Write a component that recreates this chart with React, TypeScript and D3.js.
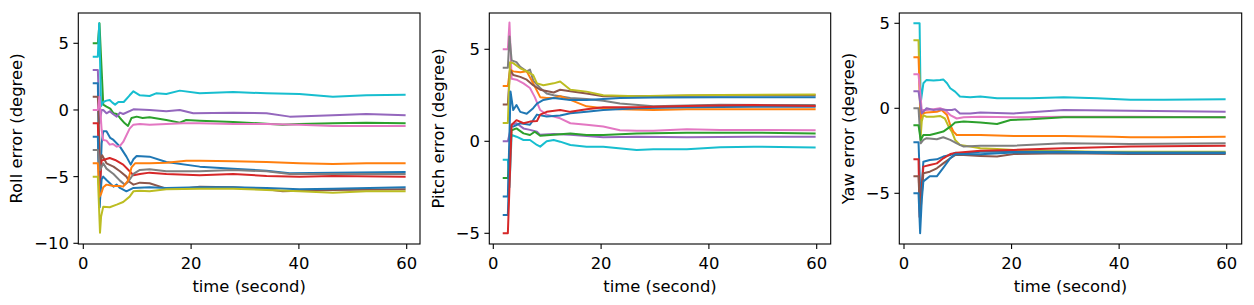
import React from 'react';
import * as d3 from 'd3';

// tab10 palette (same as matplotlib default cycle)
const palette = d3.schemeCategory10;

const xTicks = [0, 20, 40, 60];
const dashSpan = [1.75, 2.7];

// ---- Roll ----
const rollInit = [5, 4, 3, 2, 1, 0, -1, -2, -3, -4, -5];
const rollColor = [2, 9, 4, 0, 5, 6, 3, 0, 7, 1, 8];
const rollTrack: number[][][] = [
  [[3.0, 6.5], [3.7, 0.4], [4.3, 0.25], [5.0, 0.1], [5.6, -0.25], [6.2, -0.3], [6.8, -0.6], [7.7, -1.0], [8.3, -1.2], [8.95, -0.6], [9.9, -0.5], [11.0, -0.6], [12.3, -0.55], [15.4, -0.75], [17.9, -0.95], [19.1, -0.75], [21.6, -0.8], [27.8, -0.9], [37, -1.1], [40, -1.05], [46.3, -1.0], [52.5, -0.95], [59.8, -1.0]],
  [[2.95, 6.5], [3.3, 0.3], [3.7, 0.6], [4.3, 0.7], [4.9, 0.75], [5.4, 0.55], [5.9, 0.4], [6.5, 0.6], [7.5, 0.6], [8.6, 1.1], [9.3, 1.4], [10.5, 1.1], [12.3, 1.05], [13.5, 1.25], [15.4, 1.2], [17.9, 1.45], [21.6, 1.25], [27.8, 1.35], [34, 1.25], [40.1, 1.2], [46.3, 1.0], [52.5, 1.1], [59.8, 1.15]],
  [[3.0, -1.0], [3.4, 0.0], [3.7, 0.0], [4.3, -0.25], [4.9, -0.1], [5.5, -0.3], [6.2, -0.5], [6.8, -0.2], [7.4, -0.3], [9.3, 0.05], [12.3, 0.0], [15.4, -0.1], [17.9, 0.0], [20.4, -0.25], [27.8, -0.2], [34, -0.25], [38.3, -0.5], [46.3, -0.4], [52.5, -0.3], [59.8, -0.4]],
  [[3.0, -7.3], [3.4, -2.5], [3.7, -1.6], [4.3, -1.6], [5.0, -2.1], [5.6, -2.25], [6.8, -2.75], [8.0, -3.5], [8.8, -4.1], [9.3, -3.7], [9.9, -3.45], [12.3, -3.5], [15.4, -3.9], [21.6, -4.25], [27.8, -4.4], [34, -4.55], [38.3, -4.75], [46.3, -4.7], [59.8, -4.65]],
  [[3.1, -4.0], [3.5, -3.4], [4.3, -4.0], [5.6, -4.25], [6.8, -4.6], [8.0, -5.0], [8.6, -5.4], [9.3, -5.6], [10.5, -5.45], [12.3, -5.5], [15.4, -5.9], [18.5, -5.9], [21.6, -5.75], [27.8, -5.8], [34, -5.95], [37, -6.1], [40.1, -6.05], [46.3, -6.0], [59.8, -5.95]],
  [[3.0, 1.0], [3.4, -1.5], [3.7, -2.25], [4.3, -2.3], [4.9, -2.6], [5.5, -2.55], [6.2, -2.75], [6.8, -2.7], [7.4, -2.4], [8.6, -1.4], [9.3, -1.1], [10.5, -1.05], [12.3, -1.1], [15.4, -1.05], [18.5, -1.0], [21.6, -1.0], [27.8, -1.05], [34, -1.05], [40.1, -1.1], [46.3, -1.2], [52.5, -1.2], [59.8, -1.2]],
  [[3.0, -6.0], [3.4, -3.8], [3.7, -3.75], [4.9, -3.6], [5.9, -3.75], [7.4, -4.1], [8.6, -4.6], [9.3, -4.9], [10.5, -4.8], [12.3, -4.7], [15.4, -4.8], [21.6, -4.9], [27.8, -4.8], [34, -4.95], [40.1, -5.0], [46.3, -4.95], [59.8, -5.0]],
  [[3.0, -7.3], [3.4, -5.2], [3.7, -5.0], [4.3, -5.25], [5.6, -5.75], [6.2, -5.6], [6.8, -5.85], [8.0, -6.1], [9.3, -5.85], [12.3, -5.8], [15.4, -5.85], [21.6, -5.8], [27.8, -5.8], [34, -5.85], [40.1, -5.95], [46.3, -5.9], [59.8, -5.8]],
  [[3.1, -4.5], [3.7, -4.0], [4.3, -4.4], [5.6, -4.8], [6.8, -5.3], [7.7, -5.6], [8.3, -5.4], [9.3, -4.8], [10.5, -4.5], [12.3, -4.45], [15.4, -4.6], [21.6, -4.6], [27.8, -4.5], [34, -4.6], [38.3, -4.8], [46.3, -4.8], [59.8, -4.8]],
  [[3.0, -6.5], [3.3, -6.3], [3.7, -5.8], [4.3, -5.6], [5.6, -5.7], [6.8, -5.7], [7.4, -5.75], [8.3, -5.3], [8.95, -4.3], [9.6, -4.0], [12.3, -4.0], [15.4, -3.95], [19.1, -3.8], [21.6, -3.8], [27.8, -3.85], [34, -3.9], [40.1, -4.0], [46.3, -4.05], [52.5, -4.0], [59.8, -4.0]],
  [[3.1, -9.2], [3.3, -8.0], [3.7, -7.25], [4.9, -7.3], [6.2, -7.1], [7.4, -6.9], [8.6, -6.5], [9.3, -6.1], [10.5, -6.05], [12.3, -6.1], [15.4, -5.95], [21.6, -5.9], [27.8, -5.9], [34, -6.0], [40.1, -6.1], [46.3, -6.2], [52.5, -6.1], [59.8, -6.1]],
];

// ---- Pitch ----
const pitchInit = [5, 4, 3, 2, 1, 0, -1, -2, -3, -4, -5];
const pitchColor = [6, 7, 1, 5, 8, 4, 9, 2, 0, 0, 3];
const pitchTrack: number[][][] = [
  [[3.0, 6.45], [3.4, 3.4], [4.3, 3.35], [5.6, 3.15], [6.8, 2.9], [7.7, 2.4], [8.7, 1.7], [9.9, 1.45], [11.2, 1.35], [12.4, 1.25], [14.3, 0.98], [17.3, 0.9], [20.4, 0.8], [23.5, 0.6], [26.6, 0.57], [29.7, 0.57], [35.9, 0.65], [42.1, 0.62], [48.3, 0.62], [59.8, 0.6]],
  [[3.0, 5.7], [3.4, 4.4], [4.3, 4.3], [5.0, 4.05], [6.2, 3.8], [6.8, 3.9], [7.4, 3.3], [8.7, 2.9], [9.9, 2.6], [11.2, 2.5], [14.3, 2.35], [17.3, 2.3], [20.4, 2.2], [23.5, 2.05], [29.7, 1.9], [35.9, 1.95], [42.1, 1.98], [59.8, 1.97]],
  [[3.1, 3.9], [3.7, 3.8], [5.0, 3.75], [6.2, 3.8], [7.4, 3.15], [8.7, 2.4], [9.9, 2.35], [11.2, 2.35], [12.4, 2.45], [14.3, 2.25], [17.3, 1.9], [20.4, 1.8], [23.5, 1.74], [29.7, 1.7], [35.9, 1.74], [48.3, 1.74], [59.8, 1.74]],
  [[3.1, 3.9], [3.7, 3.6], [5.0, 3.5], [6.2, 3.35], [7.4, 3.05], [8.7, 2.8], [11.2, 2.65], [12.4, 2.8], [14.3, 2.72], [17.3, 2.6], [20.4, 2.45], [26.6, 2.45], [35.9, 2.47], [48.3, 2.5], [59.8, 2.5]],
  [[3.1, 4.3], [3.7, 4.25], [5.0, 3.97], [6.2, 3.8], [7.4, 3.6], [8.1, 3.15], [9.3, 3.05], [11.2, 3.15], [12.4, 3.25], [14.3, 2.8], [17.3, 2.7], [20.4, 2.5], [26.6, 2.45], [35.9, 2.5], [42.1, 2.52], [59.8, 2.55]],
  [[3.4, 0.9], [4.3, 0.98], [5.6, 0.7], [6.8, 0.62], [8.1, 0.52], [8.7, 0.35], [11.2, 0.4], [14.3, 0.35], [20.4, 0.22], [26.6, 0.25], [35.9, 0.22], [48.3, 0.25], [59.8, 0.25]],
  [[3.0, -2.5], [3.4, 0.34], [4.3, 0.25], [5.6, 0.07], [6.8, 0.07], [8.1, -0.2], [8.7, -0.29], [9.9, 0.0], [11.2, 0.07], [12.4, -0.02], [14.3, -0.2], [17.3, -0.29], [20.4, -0.29], [26.6, -0.47], [29.7, -0.43], [35.9, -0.43], [42.1, -0.33], [48.3, -0.29], [59.8, -0.34]],
  [[3.4, 0.6], [4.3, 0.7], [5.6, 0.43], [6.8, 0.34], [7.7, 0.52], [8.7, 0.3], [11.2, 0.35], [14.3, 0.43], [17.3, 0.34], [20.4, 0.34], [26.6, 0.43], [35.9, 0.47], [48.3, 0.47], [59.8, 0.43]],
  [[3.2, 2.7], [3.7, 1.7], [4.3, 1.97], [5.0, 1.6], [6.2, 1.5], [7.4, 1.8], [8.1, 2.05], [9.3, 2.25], [11.2, 2.35], [14.3, 2.25], [17.3, 2.25], [23.5, 2.35], [29.7, 2.38], [42.1, 2.4], [59.8, 2.4]],
  [[3.2, 0.8], [3.7, 0.8], [5.0, 0.98], [6.8, 0.9], [8.1, 1.45], [9.9, 1.35], [12.4, 1.4], [14.3, 1.52], [17.3, 1.6], [20.4, 1.7], [26.6, 1.8], [35.9, 1.85], [48.3, 1.88], [59.8, 1.88]],
  [[3.0, -2.5], [3.4, 0.9], [4.3, 1.15], [5.6, 0.98], [6.8, 1.07], [8.1, 1.1], [8.7, 1.45], [9.9, 1.6], [12.4, 1.7], [14.3, 1.6], [17.3, 1.74], [20.4, 1.85], [26.6, 1.85], [35.9, 1.92], [48.3, 1.97], [59.8, 1.92]],
];

// ---- Yaw ----
const yawInit = [5, 4, 3, 2, 1, 0, -1, -2, -3, -4, -5];
const yawColor = [9, 8, 1, 6, 4, 7, 2, 0, 3, 5, 0];
const yawTrack: number[][][] = [
  [[2.9, 5.0], [3.1, 0.3], [3.6, 1.47], [4.2, 1.67], [5.5, 1.63], [6.7, 1.67], [7.3, 1.7], [8.0, 1.47], [8.6, 1.18], [9.5, 0.98], [10.4, 0.69], [12.3, 0.65], [14.2, 0.69], [17.3, 0.59], [23.5, 0.59], [29.7, 0.65], [35.9, 0.59], [42.1, 0.5], [48.3, 0.5], [59.8, 0.53]],
  [[3.1, -1.67], [3.3, -0.78], [3.6, -0.4], [4.2, -0.5], [5.5, -0.5], [6.7, -0.45], [7.6, -0.6], [8.3, -1.08], [8.9, -1.37], [9.5, -1.86], [10.4, -2.16], [12.3, -2.25], [14.2, -2.35], [17.3, -2.4], [20.4, -2.45], [26.6, -2.5], [35.9, -2.55], [48.3, -2.55], [59.8, -2.55]],
  [[3.1, -0.6], [3.3, -0.3], [4.2, -0.25], [6.1, -0.2], [7.0, -0.1], [8.0, -0.4], [8.6, -0.98], [9.2, -1.37], [9.8, -1.57], [11.1, -1.57], [14.2, -1.57], [20.4, -1.63], [29.7, -1.63], [39, -1.67], [42.1, -1.7], [48.3, -1.7], [59.8, -1.67]],
  [[3.3, -0.1], [4.2, -0.1], [5.5, -0.05], [6.7, 0.0], [7.6, -0.1], [8.6, -0.4], [9.8, -0.6], [11.1, -0.53], [14.2, -0.5], [20.4, -0.53], [29.7, -0.5], [42.1, -0.5], [59.8, -0.53]],
  [[3.3, -0.3], [4.2, 0.0], [5.5, -0.1], [6.7, -0.05], [8.0, -0.1], [8.9, -0.1], [9.5, -0.05], [10.4, -0.3], [12.3, -0.3], [14.2, -0.25], [20.4, -0.3], [29.7, -0.1], [42.1, -0.14], [59.8, -0.2]],
  [[3.1, -2.06], [3.6, -1.86], [4.2, -1.76], [6.1, -1.82], [7.3, -1.7], [8.6, -1.86], [9.8, -2.06], [11.1, -2.25], [14.2, -2.2], [20.4, -2.2], [29.7, -2.06], [42.1, -2.1], [59.8, -2.06]],
  [[3.1, -1.86], [3.6, -1.57], [4.8, -1.57], [6.1, -1.47], [7.3, -1.37], [8.6, -1.08], [9.5, -0.84], [11.1, -0.78], [14.2, -0.84], [17.3, -0.92], [19.8, -0.69], [23.5, -0.65], [29.7, -0.53], [42.1, -0.53], [59.8, -0.53]],
  [[3.1, -5.5], [3.6, -3.14], [4.8, -3.04], [6.1, -3.0], [7.3, -2.84], [8.6, -2.75], [9.5, -2.62], [11.1, -2.66], [14.2, -2.55], [20.4, -2.55], [29.7, -2.55], [42.1, -2.6], [59.8, -2.6]],
  [[2.9, -6.4], [3.6, -3.43], [4.8, -3.33], [6.1, -3.24], [7.3, -2.94], [8.6, -2.69], [9.8, -2.62], [14.2, -2.5], [20.4, -2.45], [29.7, -2.35], [42.1, -2.25], [59.8, -2.2]],
  [[3.0, -6.4], [3.6, -3.82], [4.8, -3.73], [6.1, -3.53], [7.3, -3.24], [8.6, -2.94], [9.5, -2.75], [11.1, -2.75], [14.2, -2.8], [17.3, -2.84], [20.4, -2.69], [29.7, -2.65], [42.1, -2.69], [59.8, -2.69]],
  [[3.0, -7.35], [3.3, -5.4], [3.6, -4.3], [4.8, -4.0], [6.1, -4.0], [7.3, -3.5], [8.6, -2.94], [9.5, -2.7], [11.1, -2.7], [14.2, -2.7], [20.4, -2.6], [29.7, -2.6], [42.1, -2.65], [59.8, -2.65]],
];

const FONT = 'DejaVu Sans, sans-serif';
const FS = 16.4;
const TICK = 4.9;

type PanelProps = {
  id: string;
  left: number; right: number; top: number; bottom: number;
  x0: number; x60: number;
  yDomain: [number, number]; yRange: [number, number];
  yTicks: number[];
  label: string; labelX: number;
  init: number[]; colors: number[]; tracks: number[][][];
};

function Panel(p: PanelProps) {
  const x = d3.scaleLinear().domain([0, 60]).range([p.x0, p.x60]);
  const y = d3.scaleLinear().domain(p.yDomain).range(p.yRange);
  const line = d3.line<number[]>().x(d => x(d[0])).y(d => y(d[1]));
  const fmt = (v: number) => (v < 0 ? '\u2212' + Math.abs(v) : String(v));
  const cx = (p.left + p.right) / 2;
  const cy = (p.top + p.bottom) / 2;
  return (
    <g>
      <clipPath id={p.id}>
        <rect x={p.left} y={p.top} width={p.right - p.left} height={p.bottom - p.top} />
      </clipPath>
      <g clipPath={`url(#${p.id})`} fill="none" strokeWidth={2} strokeLinejoin="round" strokeLinecap="butt">
        {p.tracks.map((tr, i) => {
          const pts = [[dashSpan[0], p.init[i]], [dashSpan[1], p.init[i]], ...tr];
          return <path key={i} d={line(pts) || ''} stroke={palette[p.colors[i]]} />;
        })}
      </g>
      <rect x={p.left} y={p.top} width={p.right - p.left} height={p.bottom - p.top}
        fill="none" stroke="#000" strokeWidth={1.1} />
      {xTicks.map(t => (
        <g key={'x' + t}>
          <line x1={x(t)} x2={x(t)} y1={p.bottom} y2={p.bottom + TICK} stroke="#000" strokeWidth={1.1} />
          <text x={x(t)} y={p.bottom + 24.5} textAnchor="middle">{fmt(t)}</text>
        </g>
      ))}
      {p.yTicks.map(t => (
        <g key={'y' + t}>
          <line x1={p.left - TICK} x2={p.left} y1={y(t)} y2={y(t)} stroke="#000" strokeWidth={1.1} />
          <text x={p.left - TICK - 4.5} y={y(t)} dy="0.36em" textAnchor="end">{fmt(t)}</text>
        </g>
      ))}
      <text x={cx} y={291.5} textAnchor="middle">time (second)</text>
      <text transform={`translate(${p.labelX},${cy}) rotate(-90)`} textAnchor="middle">{p.label}</text>
    </g>
  );
}

export default function App() {
  return (
    <svg width={1254} height={305} style={{ position: 'absolute', left: 0, top: 0, background: '#fff' }}
      fontFamily={FONT} fontSize={FS} fill="#000">
      <Panel id="c1" left={78.3} right={420} top={13} bottom={244} x0={83.3} x60={406.7}
        yDomain={[-10, 5]} yRange={[243.3, 43.3]} yTicks={[-10, -5, 0, 5]}
        label="Roll error (degree)" labelX={22.3}
        init={rollInit} colors={rollColor} tracks={rollTrack} />
      <Panel id="c2" left={489.3} right={830.7} top={13} bottom={244} x0={493.3} x60={816.7}
        yDomain={[-5, 5]} yRange={[233.3, 49.3]} yTicks={[-5, 0, 5]}
        label="Pitch error (degree)" labelX={443.7}
        init={pitchInit} colors={pitchColor} tracks={pitchTrack} />
      <Panel id="c3" left={899.3} right={1241.7} top={13} bottom={244} x0={904} x60={1226.7}
        yDomain={[-5, 5]} yRange={[193.3, 23.3]} yTicks={[-5, 0, 5]}
        label="Yaw error (degree)" labelX={853.7}
        init={yawInit} colors={yawColor} tracks={yawTrack} />
    </svg>
  );
}
